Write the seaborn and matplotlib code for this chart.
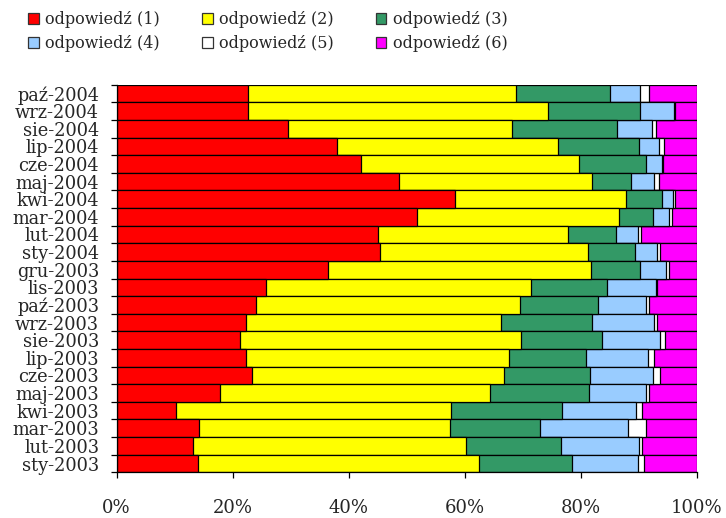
import matplotlib
matplotlib.use("Agg")
import matplotlib.pyplot as plt
from matplotlib.ticker import FixedLocator, FuncFormatter
from matplotlib.patches import Patch
import numpy as np
import pandas as pd
import seaborn as sns

# Survey months, chronological
months = ["sty-2003", "lut-2003", "mar-2003", "kwi-2003", "maj-2003", "cze-2003",
          "lip-2003", "sie-2003", "wrz-2003", "paź-2003", "lis-2003", "gru-2003",
          "sty-2004", "lut-2004", "mar-2004", "kwi-2004", "maj-2004", "cze-2004",
          "lip-2004", "sie-2004", "wrz-2004", "paź-2004"]

# Share of each answer (%) per month
odp1 = [14.0, 13.1, 14.2, 10.3, 17.9, 23.3, 22.3, 21.2, 22.3, 24.1, 25.8, 36.5,
        45.4, 45.0, 51.7, 58.4, 48.7, 42.1, 37.9, 29.6, 22.6, 22.6]
odp2 = [48.4, 47.1, 43.2, 47.3, 46.5, 43.4, 45.3, 48.4, 44.0, 45.4, 45.6, 45.3,
        35.8, 32.7, 34.9, 29.3, 33.3, 37.6, 38.1, 38.6, 51.7, 46.2]
odp3 = [16.1, 16.3, 15.5, 19.1, 17.0, 14.8, 13.2, 14.1, 15.6, 13.4, 13.1, 8.4,
        8.2, 8.3, 5.8, 6.2, 6.7, 11.6, 14.0, 18.0, 15.9, 16.2]
odp4 = [11.3, 13.6, 15.3, 12.8, 9.8, 10.9, 10.8, 10.0, 10.7, 8.3, 8.4, 4.5,
        3.8, 3.8, 2.7, 2.0, 3.9, 2.7, 3.4, 6.0, 5.8, 5.2]
odp5 = [1.1, 0.5, 3.0, 1.0, 0.5, 1.2, 1.0, 0.8, 0.6, 0.5, 0.3, 0.5,
        0.5, 0.6, 0.6, 0.3, 0.8, 0.1, 0.9, 0.8, 0.3, 1.5]
odp6 = [9.1, 9.4, 8.8, 9.5, 8.3, 6.4, 7.4, 5.5, 6.8, 8.3, 6.8, 4.8,
        6.3, 9.6, 4.3, 3.8, 6.6, 5.9, 5.7, 7.0, 3.7, 8.3]

labels = ["odpowiedź (1)", "odpowiedź (2)", "odpowiedź (3)",
          "odpowiedź (4)", "odpowiedź (5)", "odpowiedź (6)"]
colors = ["#FF0000", "#FFFF00", "#339966", "#99CCFF", "#FFFFFF", "#FF00FF"]

series = np.array([odp1, odp2, odp3, odp4, odp5, odp6])
series = series / series.sum(axis=0) * 100.0
cum = np.cumsum(series, axis=0)

df = pd.DataFrame({"miesiac": months})
for i in range(6):
    df[f"c{i}"] = cum[i]

sns.set_style("ticks")
plt.rcParams["font.family"] = ["DejaVu Serif"]

fig = plt.figure(figsize=(7.26, 5.18), dpi=100)
ax = fig.add_axes([0.1605, 0.0882, 0.7995, 0.7483])

order = months[::-1]  # newest month on top
# Stack by overlaying cumulative totals, longest first
for i in range(5, -1, -1):
    sns.barplot(data=df, x=f"c{i}", y="miesiac", order=order, orient="h",
                color=colors[i], saturation=1, width=1.0,
                edgecolor="black", linewidth=0.9, ax=ax)

n = len(months)
ax.set_xlim(0, 100)
ax.set_ylim(n - 0.5, -0.5)
ax.set_xlabel("")
ax.set_ylabel("")

ax.set_xticks([0, 20, 40, 60, 80, 100])
ax.xaxis.set_major_formatter(FuncFormatter(lambda v, p: f"{int(v)}%"))
ax.tick_params(axis="x", length=4.5, width=0.9, color="black",
               labelsize=13, pad=15)

ax.set_yticks(range(n))
ax.set_yticklabels(order)
ax.yaxis.set_minor_locator(FixedLocator(np.arange(-0.5, n, 1.0)))
ax.tick_params(axis="y", which="major", length=0, labelsize=12.8, pad=12.5)
ax.tick_params(axis="y", which="minor", length=4.5, width=0.9, color="black")

for s in ["top", "right"]:
    ax.spines[s].set_visible(False)
for s in ["left", "bottom"]:
    ax.spines[s].set_color("black")
    ax.spines[s].set_linewidth(0.9)

# Legend laid out row by row: (1)(2)(3) / (4)(5)(6)
handles = [Patch(facecolor=c, edgecolor="#333333", linewidth=0.9) for c in colors]
idx = [0, 3, 1, 4, 2, 5]
fig.legend([handles[i] for i in idx], [labels[i] for i in idx], ncol=3,
           loc="upper left", bbox_to_anchor=(22 / 726, 1 - 5 / 518),
           frameon=False, fontsize=11.5, handlelength=0.65, handleheight=0.65,
           handletextpad=0.4, columnspacing=2.65, labelspacing=0.42,
           borderaxespad=0)

fig.savefig("out.png", dpi=100)
